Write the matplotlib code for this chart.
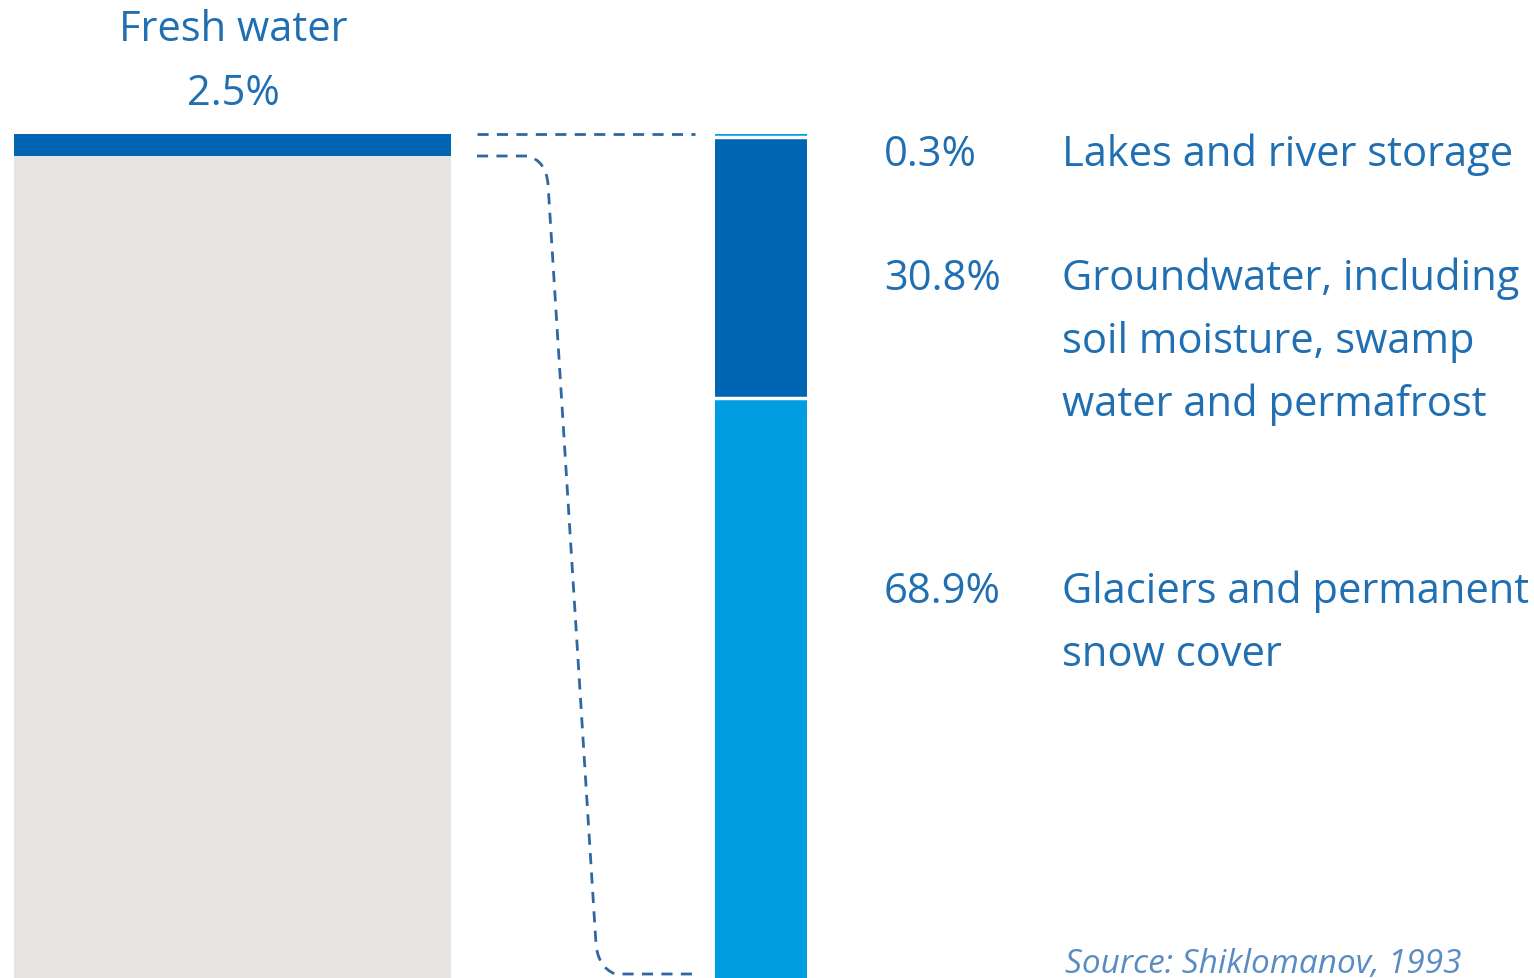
import matplotlib.pyplot as plt
from matplotlib.path import Path
from matplotlib.patches import PathPatch

# world water split, percent
total_labels = ["Fresh water", "Salt water"]
total_values = [2.5, 97.5]

fresh_labels = ["Lakes and river storage",
                "Groundwater, including\nsoil moisture, swamp\nwater and permafrost",
                "Glaciers and permanent\nsnow cover"]
fresh_values = [0.3, 30.8, 68.9]

TEXT = "#1f6fb2"
DARK = "#0066b3"
LIGHT = "#009ee0"
GREY = "#e7e3e1"
DASH = "#2f67a3"

plt.rcParams['font.family'] = ['Open Sans', 'DejaVu Sans']

W, H = 1534, 979
fig = plt.figure(figsize=(W / 100, H / 100), dpi=100)

def px_axes(x0, y0, x1, y1):
    # axes placed by pixel box (top-left origin)
    return fig.add_axes([x0 / W, 1 - y1 / H, (x1 - x0) / W, (y1 - y0) / H])

# left bar: fresh vs salt
ax1 = px_axes(14, 135, 451, 1015)
bottom = 0
for v, c in zip(total_values, [DARK, GREY]):
    ax1.bar(0, v, bottom=bottom, width=1, color=c, linewidth=0)
    bottom += v
ax1.set_xlim(-0.5, 0.5)
ax1.set_ylim(100, 0)
ax1.axis("off")

# right bar: breakdown of fresh water, white rule between segments
ax2 = px_axes(715, 135, 807, 985)
bottom = 0
for v, c in zip(fresh_values, [LIGHT, DARK, LIGHT]):
    ax2.bar(0, v, bottom=bottom, width=1, color=c, linewidth=0)
    bottom += v
    if bottom < 100:
        ax2.axhline(bottom, color="white", lw=2.5)
ax2.set_xlim(-0.5, 0.5)
ax2.set_ylim(100, 0)
ax2.axis("off")

# overlay in pixel units for text and connectors
ov = fig.add_axes([0, 0, 1, 1], zorder=-1)
ov.set_xlim(0, W)
ov.set_ylim(H, 0)
ov.axis("off")

dash = (0, (4, 3))
ov.plot([477, 695], [135, 135], ls=dash, color=DASH, lw=2)
verts = [(477, 157), (528, 157), (546, 162), (548, 185),
         (596, 945), (598, 968), (615, 975), (695, 975)]
codes = [Path.MOVETO, Path.LINETO, Path.CURVE3, Path.CURVE3,
         Path.LINETO, Path.CURVE3, Path.CURVE3, Path.LINETO]
ov.add_patch(PathPatch(Path(verts, codes), fill=False, edgecolor=DASH,
                       lw=2, ls=dash))

fs = 30
ov.text(233, 30, total_labels[0], color=TEXT, fontsize=fs, ha="center", va="center")
ov.text(233, 94, f"{total_values[0]}%", color=TEXT, fontsize=fs, ha="center", va="center")
ov.text(233, 452, total_labels[1], color=TEXT, fontsize=fs, ha="center", va="center")
ov.text(233, 515, f"{total_values[1]}%", color=TEXT, fontsize=fs, ha="center", va="center")

label_y = [155, 279, 592]
for y, v, lab in zip(label_y, fresh_values, fresh_labels):
    ov.text(884, y, f"{v}%", color=TEXT, fontsize=fs, ha="left", va="center")
    first, *rest = lab.split("\n")
    ov.text(1062, y, first, color=TEXT, fontsize=fs, ha="left", va="center")
    for i, line in enumerate(rest, start=1):
        ov.text(1062, y + 63 * i, line, color=TEXT, fontsize=fs, ha="left", va="center")

ov.text(1065, 965, "Source: Shiklomanov, 1993", color="#5a8cc4", fontsize=24,
        style="italic", ha="left", va="center")

fig.savefig("out.png", dpi=100)
